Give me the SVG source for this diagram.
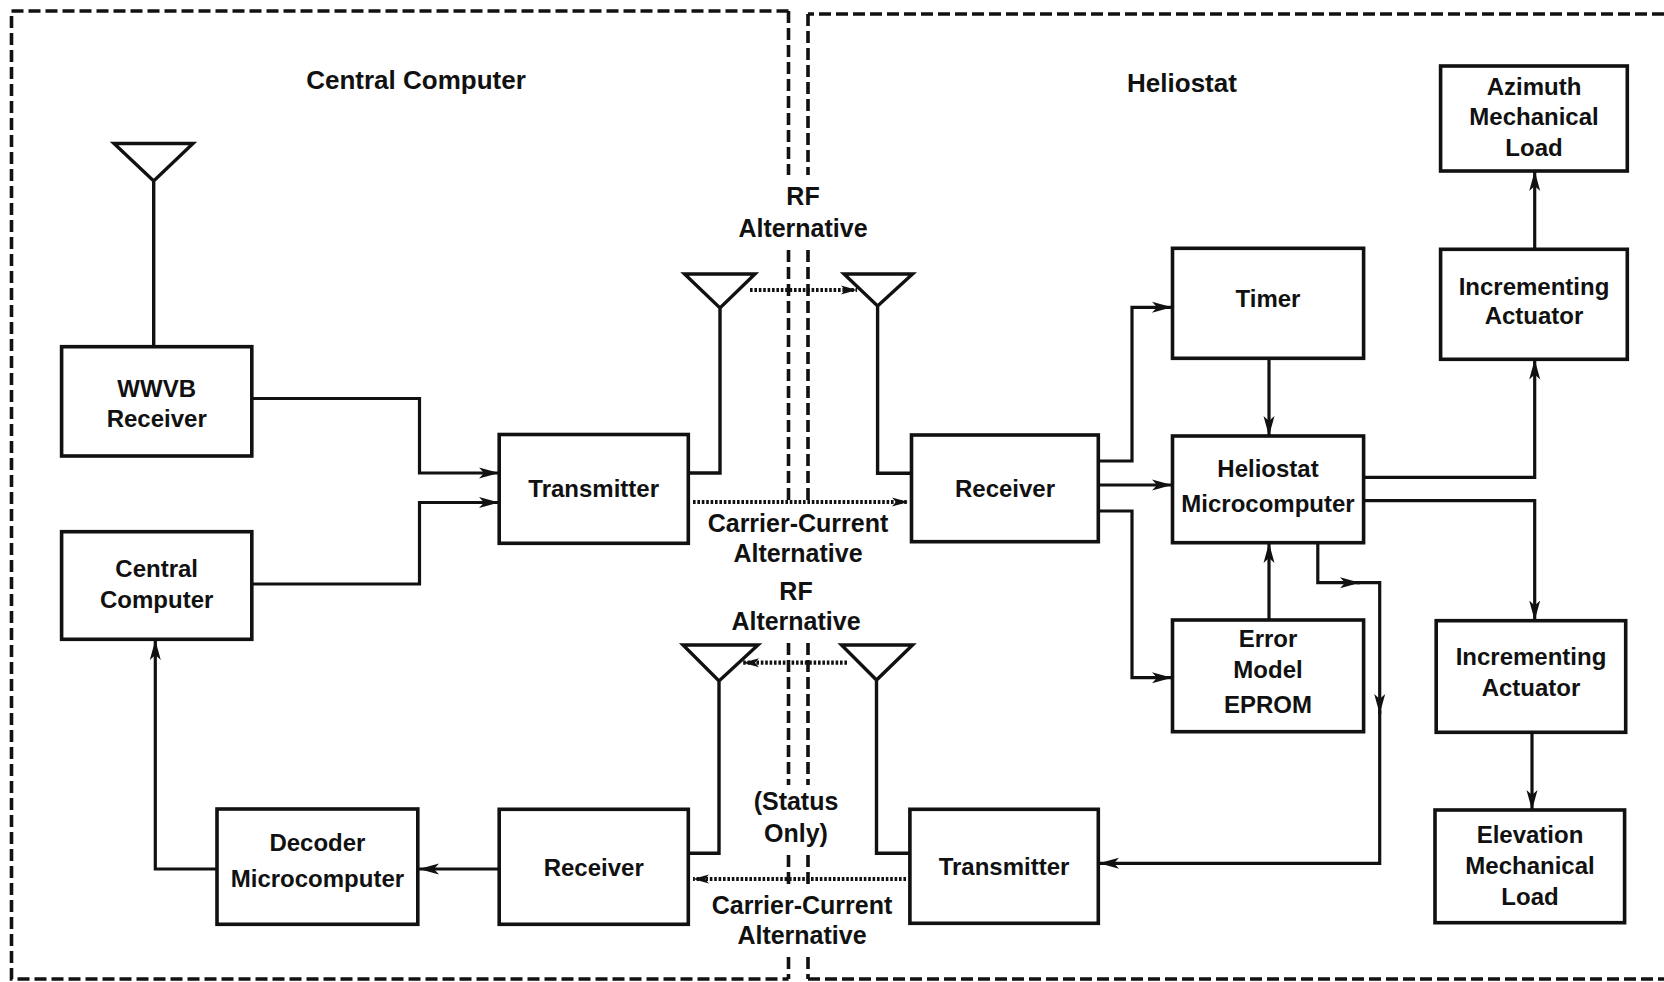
<svg xmlns="http://www.w3.org/2000/svg" width="1664" height="982" viewBox="0 0 1664 982">
<defs>
<style>
.bx{fill:#fff;stroke:#111;stroke-width:3.6}
.t{font-family:"Liberation Sans",Arial,sans-serif;font-weight:bold;font-size:24px;fill:#111;text-anchor:middle}
.tm{font-size:25px}
.tt{font-size:26px}
.ln{fill:none;stroke:#111;stroke-width:3.2}
.ant{fill:none;stroke:#111;stroke-width:3.4;stroke-linejoin:miter}
.dash{fill:none;stroke:#111;stroke-width:3.6;stroke-dasharray:12 5}
.dot{fill:none;stroke:#111;stroke-width:4.2;stroke-dasharray:2.6 1.8}
</style>
<marker id="ah" markerUnits="userSpaceOnUse" markerWidth="22" markerHeight="14" refX="20" refY="7" orient="auto">
<path d="M0,1.5 L20,7 L0,12.5 L5,7 z" fill="#111"/>
</marker>
<marker id="ahs" markerUnits="userSpaceOnUse" markerWidth="18" markerHeight="12" refX="16" refY="6" orient="auto">
<path d="M0,1.5 L16,6 L0,10.5 L4,6 z" fill="#111"/>
</marker>
</defs>
<rect width="1664" height="982" fill="#fff"/>

<g id="frames">
<path class="dash" d="M788.5,11 L11.5,11 L11.5,979 L788.5,979"/>
<path class="dash" d="M1664,14 H808 M808,979 H1664"/>
<path class="dash" d="M788.5,11 V175 M788.5,250 V505 M788.5,643 V785 M788.5,855 V885 M788.5,957 V979"/>
<path class="dash" d="M808,14 V175 M808,250 V505 M808,643 V785 M808,855 V885 M808,957 V979"/>
</g>

<g id="labels">
<text class="t tt" x="416" y="89">Central Computer</text>
<text class="t tt" x="1182" y="92">Heliostat</text>
<text class="t tm" x="803" y="205">RF</text>
<text class="t tm" x="803" y="236.5">Alternative</text>
<text class="t tm" x="798" y="531.5">Carrier-Current</text>
<text class="t tm" x="798" y="561.5">Alternative</text>
<text class="t tm" x="796" y="600">RF</text>
<text class="t tm" x="796" y="630">Alternative</text>
<text class="t tm" x="796" y="810">(Status</text>
<text class="t tm" x="796" y="841.5">Only)</text>
<text class="t tm" x="802" y="913.5">Carrier-Current</text>
<text class="t tm" x="802" y="944">Alternative</text>
</g>

<g id="antennas">
<path class="ant" d="M114,143.5 L193,143.5 L153.7,181 Z M153.7,181 V347"/>
<path class="ant" d="M684.5,274 L755,274 L720,308 Z M720,308 V473 H688"/>
<path class="ant" d="M844,274 L912.6,274 L877.6,306 Z M877.6,306 V473.3 H911.5"/>
<path class="ant" d="M683,645 L758,645 L719,681 Z M719,681 V853.3 H688"/>
<path class="ant" d="M841.5,645 L912.6,645 L876.5,680 Z M876.5,680 V853.3 H910"/>
</g>

<g id="connectors">
<path class="ln" d="M252,398.5 H419.5 V473 H499" marker-end="url(#ah)"/>
<path class="ln" d="M252,584 H419.5 V502.5 H499" marker-end="url(#ah)"/>
<path class="ln" d="M217,869 H155.3 V640" marker-end="url(#ah)"/>
<path class="ln" d="M499,869 H419" marker-end="url(#ah)"/>
<path class="ln" d="M1098,461 H1132 V307.3 H1172" marker-end="url(#ah)"/>
<path class="ln" d="M1098,485 H1172" marker-end="url(#ah)"/>
<path class="ln" d="M1098,511 H1132 V677.7 H1172" marker-end="url(#ah)"/>
<path class="ln" d="M1269,358 V436" marker-end="url(#ah)"/>
<path class="ln" d="M1269,620 V543" marker-end="url(#ah)"/>
<path class="ln" d="M1364,477.3 H1534.7 V359.5" marker-end="url(#ah)"/>
<path class="ln" d="M1534.7,249.5 V171" marker-end="url(#ah)"/>
<path class="ln" d="M1364,500.7 H1534.7 V620.5" marker-end="url(#ah)"/>
<path class="ln" d="M1532,732 V810" marker-end="url(#ah)"/>
<path class="ln" d="M1317.8,543 V582.7 H1360" marker-end="url(#ah)"/>
<path class="ln" d="M1356,582.7 H1379.7 V714" marker-end="url(#ah)"/>
<path class="ln" d="M1379.7,710 V863.3 H1099" marker-end="url(#ah)"/>
<path class="dot" d="M750,290 H857" marker-end="url(#ahs)"/>
<path class="dot" d="M693,502 H908" marker-end="url(#ahs)"/>
<path class="dot" d="M847,662.7 H743" marker-end="url(#ahs)"/>
<path class="dot" d="M906,879 H693" marker-end="url(#ahs)"/>
</g>

<g id="wwvb-receiver">
<rect class="bx" x="61.6" y="346.7" width="190.2" height="109.3"/>
<text class="t" x="156.7" y="397">WWVB</text>
<text class="t" x="156.7" y="427">Receiver</text>
</g>
<g id="central-computer">
<rect class="bx" x="61.6" y="531.7" width="190.2" height="107.6"/>
<text class="t" x="156.7" y="577">Central</text>
<text class="t" x="156.7" y="608">Computer</text>
</g>
<g id="transmitter-cc">
<rect class="bx" x="499.2" y="434.5" width="189.1" height="108.8"/>
<text class="t" x="593.7" y="497">Transmitter</text>
</g>
<g id="decoder-microcomputer">
<rect class="bx" x="217" y="809" width="200.8" height="115.3"/>
<text class="t" x="317.4" y="850.5">Decoder</text>
<text class="t" x="317.4" y="886.5">Microcomputer</text>
</g>
<g id="receiver-cc">
<rect class="bx" x="499.2" y="809.3" width="189.1" height="115"/>
<text class="t" x="593.7" y="876">Receiver</text>
</g>
<g id="receiver-h">
<rect class="bx" x="911.5" y="435" width="186.8" height="106.7"/>
<text class="t" x="1005" y="497">Receiver</text>
</g>
<g id="transmitter-h">
<rect class="bx" x="909.9" y="809.3" width="188.4" height="114"/>
<text class="t" x="1004" y="875">Transmitter</text>
</g>
<g id="timer">
<rect class="bx" x="1172.5" y="248.3" width="191.1" height="110"/>
<text class="t" x="1268" y="307">Timer</text>
</g>
<g id="heliostat-microcomputer">
<rect class="bx" x="1172.5" y="436" width="191.1" height="106.7"/>
<text class="t" x="1268" y="477">Heliostat</text>
<text class="t" x="1268" y="511.5">Microcomputer</text>
</g>
<g id="error-model-eprom">
<rect class="bx" x="1172.5" y="620" width="191.1" height="111.7"/>
<text class="t" x="1268" y="646.5">Error</text>
<text class="t" x="1268" y="678">Model</text>
<text class="t" x="1268" y="713">EPROM</text>
</g>
<g id="azimuth-load">
<rect class="bx" x="1440.6" y="66" width="186.7" height="105"/>
<text class="t" x="1534" y="95">Azimuth</text>
<text class="t" x="1534" y="125">Mechanical</text>
<text class="t" x="1534" y="155.5">Load</text>
</g>
<g id="incrementing-actuator-az">
<rect class="bx" x="1440.6" y="249.3" width="186.7" height="110"/>
<text class="t" x="1534" y="295">Incrementing</text>
<text class="t" x="1534" y="324">Actuator</text>
</g>
<g id="incrementing-actuator-el">
<rect class="bx" x="1436.2" y="620.7" width="189.5" height="111.6"/>
<text class="t" x="1531" y="665">Incrementing</text>
<text class="t" x="1531" y="696">Actuator</text>
</g>
<g id="elevation-load">
<rect class="bx" x="1435" y="810" width="189.6" height="112.7"/>
<text class="t" x="1530" y="842.5">Elevation</text>
<text class="t" x="1530" y="874">Mechanical</text>
<text class="t" x="1530" y="905">Load</text>
</g>
</svg>
